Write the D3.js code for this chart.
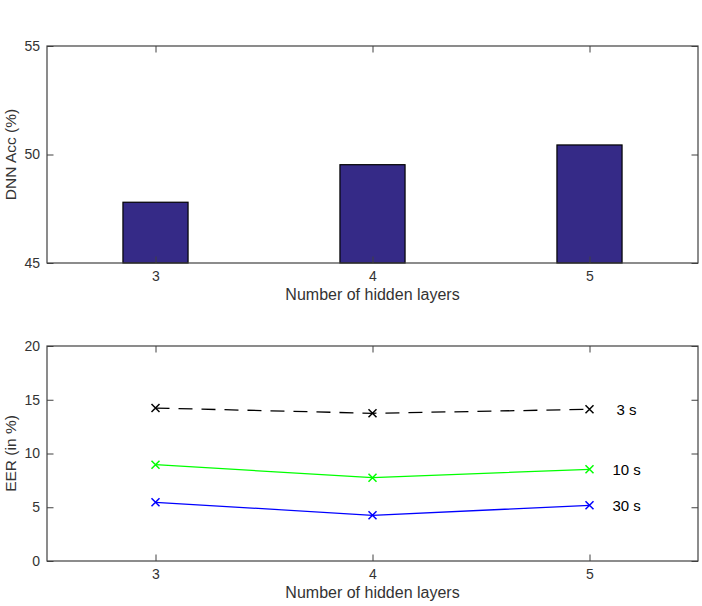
<!DOCTYPE html>
<html>
<head>
<meta charset="utf-8">
<script src="https://cdn.jsdelivr.net/npm/d3@7"></script>
<style>
  body { margin: 0; background: #fff; }
  svg { display: block; font-family: "Liberation Sans", Arial, Helvetica, sans-serif; }
</style>
</head>
<body>
<div id="chart"></div>
<script>
// number of hidden layers (categories shared by both panels)
const hiddenLayers = [3, 4, 5];

// top panel: DNN accuracy in %
const dnnAccuracy = [47.8, 49.53, 50.44];

// bottom panel: EER per test duration
const eerSeriesNames = ['3 s', '10 s', '30 s'];
const eer3s = [14.23, 13.74, 14.11];
const eer10s = [8.96, 7.75, 8.53];
const eer30s = [5.46, 4.25, 5.18];

// tick labels
const accTicks = [45, 50, 55];
const eerTicks = [0, 5, 10, 15, 20];

const width = 702;
const height = 606;
const axisColor = '#404040';
const textColor = '#333333';
const tickLength = 6.5;

const svg = d3.select('#chart')
  .append('svg')
  .attr('width', width)
  .attr('height', height);

/**
 * Draws a matlab style box with inward ticks on all four sides.
 */
function drawBox(box, xScale, yScale, xTicks, yTicks) {
  let g = svg.append('g');
  let fmt = d3.format('d');

  g.append('g')
    .attr('transform', `translate(0,${box.bottom})`)
    .call(d3.axisBottom(xScale).tickValues(xTicks).tickFormat(fmt)
      .tickSizeInner(-tickLength).tickSizeOuter(0).tickPadding(8));

  g.append('g')
    .attr('transform', `translate(0,${box.top})`)
    .call(d3.axisTop(xScale).tickValues(xTicks).tickSizeInner(-tickLength).tickSizeOuter(0).tickFormat(''));

  g.append('g')
    .attr('transform', `translate(${box.left},0)`)
    .call(d3.axisLeft(yScale).tickValues(yTicks).tickFormat(fmt)
      .tickSizeInner(-tickLength).tickSizeOuter(0).tickPadding(7));

  g.append('g')
    .attr('transform', `translate(${box.right},0)`)
    .call(d3.axisRight(yScale).tickValues(yTicks).tickSizeInner(-tickLength).tickSizeOuter(0).tickFormat(''));

  g.selectAll('.domain').remove();
  g.selectAll('line').attr('stroke', axisColor);
  g.selectAll('text')
    .attr('fill', textColor)
    .style('font-size', '14px')
    .style('font-family', '"Liberation Sans", Arial, sans-serif');

  return g;
}

function drawFrame(box) {
  svg.append('rect')
    .attr('x', box.left)
    .attr('y', box.top)
    .attr('width', box.right - box.left)
    .attr('height', box.bottom - box.top)
    .attr('fill', 'none')
    .attr('stroke', axisColor)
    .attr('stroke-width', 1.2);
}

function drawLabels(box, xLabel, yLabel) {
  svg.append('text')
    .attr('x', (box.left + box.right) / 2)
    .attr('y', box.bottom + 37)
    .attr('text-anchor', 'middle')
    .attr('fill', textColor)
    .style('font-size', '16px')
    .text(xLabel);

  svg.append('text')
    .attr('transform', `translate(16,${(box.top + box.bottom) / 2}) rotate(-90)`)
    .attr('text-anchor', 'middle')
    .attr('fill', textColor)
    .style('font-size', '15.5px')
    .text(yLabel);
}

// ---------- top panel: bars ----------
const topBox = {left: 47, right: 698, top: 46, bottom: 263};

const xTop = d3.scaleLinear()
  .domain([2.5, 5.5])
  .range([topBox.left, topBox.right]);

const yTop = d3.scaleLinear()
  .domain([45, 55])
  .range([topBox.bottom, topBox.top]);

const barWidth = xTop(3.3) - xTop(3);

svg.append('g')
  .selectAll('rect')
  .data(hiddenLayers.map((layers, i) => ({layers: layers, value: dnnAccuracy[i]})))
  .enter()
  .append('rect')
  .attr('x', d => xTop(d.layers) - barWidth / 2)
  .attr('y', d => yTop(d.value))
  .attr('width', barWidth)
  .attr('height', d => yTop(45) - yTop(d.value))
  .attr('fill', '#352a87')
  .attr('stroke', '#000')
  .attr('stroke-width', 1.2);

drawBox(topBox, xTop, yTop, hiddenLayers, accTicks);
drawFrame(topBox);
drawLabels(topBox, 'Number of hidden layers', 'DNN Acc (%)');

// ---------- bottom panel: lines ----------
const bottomBox = {left: 47, right: 698, top: 346, bottom: 561};

const xBottom = d3.scaleLinear()
  .domain([2.5, 5.5])
  .range([bottomBox.left, bottomBox.right]);

const yBottom = d3.scaleLinear()
  .domain([0, 20])
  .range([bottomBox.bottom, bottomBox.top]);

drawBox(bottomBox, xBottom, yBottom, hiddenLayers, eerTicks);

const series = [
  {name: eerSeriesNames[0], values: eer3s, color: '#000000', dash: '14,9', labelOffset: 27},
  {name: eerSeriesNames[1], values: eer10s, color: '#00ff00', dash: null, labelOffset: 23},
  {name: eerSeriesNames[2], values: eer30s, color: '#0000ff', dash: null, labelOffset: 23}
];

const line = d3.line()
  .x(d => xBottom(d.layers))
  .y(d => yBottom(d.value));

const markerSize = 4;

series.forEach(function (s) {
  let points = hiddenLayers.map((layers, i) => ({layers: layers, value: s.values[i]}));
  let g = svg.append('g');

  g.append('path')
    .datum(points)
    .attr('d', line)
    .attr('fill', 'none')
    .attr('stroke', s.color)
    .attr('stroke-width', 1.3)
    .attr('stroke-dasharray', s.dash);

  g.selectAll('path.marker')
    .data(points)
    .enter()
    .append('path')
    .attr('class', 'marker')
    .attr('d', d => {
      let x = xBottom(d.layers);
      let y = yBottom(d.value);
      let m = markerSize;
      return `M${x - m},${y - m}L${x + m},${y + m}M${x - m},${y + m}L${x + m},${y - m}`;
    })
    .attr('stroke', s.color)
    .attr('stroke-width', 1.5);

  let last = points[points.length - 1];
  g.append('text')
    .attr('x', xBottom(last.layers) + s.labelOffset)
    .attr('y', yBottom(last.value))
    .attr('dy', '0.35em')
    .attr('fill', '#000')
    .style('font-size', '15px')
    .text(s.name);
});

drawFrame(bottomBox);
drawLabels(bottomBox, 'Number of hidden layers', 'EER (in %)');
</script>
</body>
</html>
